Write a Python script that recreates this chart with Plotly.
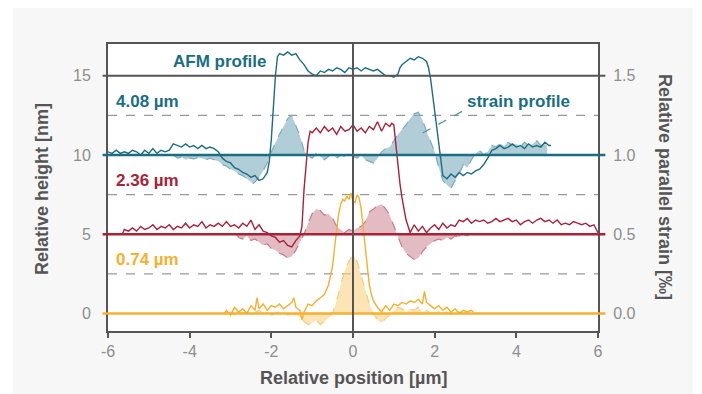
import plotly.graph_objects as go

# ---------------- data ----------------
# AFM height profiles [nm] (already offset in the figure: 10, 5, 0)
afm_408_x = [-6.0,-5.9,-5.8,-5.7,-5.6,-5.5,-5.4,-5.3,-5.2,-5.1,-5.0,-4.9,-4.8,-4.7,-4.6,-4.5,-4.4,-4.3,-4.2,-4.1,-4.0,
             -3.9,-3.8,-3.7,-3.6,-3.5,-3.4,-3.3,-3.2,-3.1,-3.0,-2.9,-2.8,-2.7,-2.6,-2.5,-2.4,-2.3,-2.2,-2.1,-2.05,
             -2.0,-1.95,-1.9,-1.85,-1.8,-1.7,-1.6,-1.5,-1.4,-1.3,-1.2,-1.1,-1.0,-0.9,-0.8,-0.7,-0.6,-0.5,-0.4,-0.3,
             -0.2,-0.1,0.0,0.1,0.2,0.3,0.4,0.5,0.6,0.7,0.8,0.9,1.0,1.1,1.15,1.2,1.3,1.4,1.5,1.6,1.7,1.8,1.85,1.9,
             1.95,2.0,2.05,2.1,2.15,2.2,2.3,2.4,2.5,2.6,2.7,2.8,2.9,3.0,3.1,3.2,3.3,3.4,3.5,3.6,3.7,3.8,3.9,4.0,
             4.1,4.2,4.3,4.4,4.5,4.6,4.7,4.8,4.85]
afm_408_y = [10.2,10.1,10.3,10.1,10.2,10.1,10.3,10.2,10.0,10.3,10.1,10.4,10.1,10.3,10.2,10.3,10.7,10.6,10.5,10.7,10.5,
             10.6,10.4,10.6,10.4,10.5,10.4,10.2,9.8,9.6,9.5,9.2,9.1,8.9,8.8,8.6,8.7,8.4,8.5,8.9,9.6,
             11.0,13.0,15.0,16.2,16.4,16.3,16.5,16.3,16.4,16.0,15.7,15.3,15.1,15.0,15.3,15.2,15.4,15.3,15.5,15.4,
             15.2,15.5,15.4,15.5,15.3,15.5,15.4,15.3,15.4,15.2,15.0,15.0,14.9,15.1,15.5,15.7,15.9,16.1,16.0,16.2,16.1,15.9,15.5,14.8,
             13.8,12.8,11.8,10.5,9.5,8.7,8.5,8.8,8.6,8.9,8.7,8.9,8.8,9.0,9.1,9.4,9.8,10.3,10.4,10.6,10.4,10.5,10.7,10.5,
             10.6,10.4,10.7,10.5,10.6,10.5,10.8,10.6,10.6]

afm_236_x = [-5.65,-5.6,-5.5,-5.4,-5.3,-5.2,-5.1,-5.0,-4.9,-4.8,-4.7,-4.6,-4.5,-4.4,-4.3,-4.2,-4.1,-4.0,-3.9,-3.8,
             -3.7,-3.6,-3.5,-3.4,-3.3,-3.2,-3.1,-3.0,-2.9,-2.8,-2.7,-2.6,-2.5,-2.4,-2.3,-2.2,-2.1,-2.0,-1.9,-1.8,
             -1.7,-1.6,-1.5,-1.4,-1.3,-1.25,-1.2,-1.15,-1.1,-1.05,-1.0,-0.9,-0.8,-0.7,-0.6,-0.5,-0.4,-0.3,-0.2,-0.1,
             0.0,0.1,0.2,0.3,0.4,0.5,0.6,0.7,0.8,0.9,0.95,1.0,1.05,1.1,1.15,1.2,1.3,1.4,1.5,1.6,1.7,1.8,1.9,2.0,
             2.1,2.2,2.3,2.4,2.5,2.6,2.7,2.8,2.9,3.0,3.1,3.2,3.3,3.4,3.5,3.6,3.7,3.8,3.9,4.0,4.1,4.2,4.3,4.4,4.5,
             4.6,4.7,4.8,4.9,5.0,5.1,5.2,5.3,5.4,5.5,5.6,5.7,5.8,5.9,6.0]
afm_236_y = [5.0,5.3,5.2,5.4,5.2,5.5,5.3,5.4,5.6,5.3,5.5,5.4,5.6,5.3,5.5,5.4,5.7,5.4,5.6,5.5,
             5.8,5.4,5.6,5.5,5.7,5.5,5.8,5.5,5.6,5.4,5.7,5.5,5.9,5.3,5.6,5.2,5.1,4.9,4.8,4.5,
             4.6,4.3,4.2,4.6,4.9,5.5,7.8,9.6,10.8,11.5,11.4,11.7,11.4,11.8,11.5,11.7,11.3,11.8,11.5,11.6,
             11.9,11.5,11.7,11.4,11.8,11.6,12.1,11.5,12.0,11.8,12.0,11.9,10.5,9.2,8.2,7.3,5.9,5.1,5.6,5.2,5.5,5.1,5.4,5.6,
             5.3,5.7,5.4,5.6,5.5,5.9,5.8,6.0,5.7,5.9,5.8,5.9,5.7,5.8,6.0,5.8,5.9,6.0,5.8,5.9,5.6,5.8,5.9,5.7,5.9,
             6.0,5.8,5.9,5.7,5.9,5.6,5.7,5.6,5.8,5.7,5.6,5.7,5.5,5.6,5.1]

afm_074_x = [-3.15,-3.1,-3.0,-2.9,-2.8,-2.7,-2.6,-2.5,-2.4,-2.35,-2.3,-2.2,-2.1,-2.0,-1.9,-1.8,-1.7,-1.6,-1.5,-1.45,
             -1.4,-1.3,-1.25,-1.2,-1.1,-1.0,-0.9,-0.8,-0.7,-0.6,-0.5,-0.45,-0.4,-0.35,-0.3,-0.25,-0.2,-0.15,-0.1,-0.05,
             0.0,0.05,0.1,0.15,0.2,0.25,0.3,0.35,0.4,0.45,0.5,0.6,0.7,0.8,0.9,1.0,1.1,1.2,1.3,1.4,1.5,1.6,1.7,1.75,
             1.8,1.9,2.0,2.1,2.2,2.3,2.4,2.5,2.6,2.7,2.8,2.9,2.95]
afm_074_y = [0.0,0.2,-0.1,0.4,0.1,0.3,0.0,0.5,0.2,1.0,0.3,0.6,0.2,0.5,0.4,0.6,0.3,0.5,0.7,1.0,
             0.4,0.2,-0.4,0.1,0.6,0.5,0.8,1.0,1.2,1.8,3.0,4.2,5.3,6.3,6.9,7.2,7.1,7.4,7.2,7.6,
             7.1,7.0,7.5,7.3,6.6,5.4,3.8,2.6,1.8,1.2,0.8,0.4,0.1,0.5,0.2,0.6,0.5,0.7,0.6,0.8,0.7,0.9,0.6,1.4,
             0.7,0.5,0.3,0.5,0.2,0.4,0.1,0.3,0.0,0.2,0.1,0.2,0.1]

# Strain profiles [per mille] (offset in the figure: 1.0, 0.5, 0.0)
strain_408_x = [-4.4,-4.3,-4.2,-4.1,-4.0,-3.9,-3.8,-3.7,-3.6,-3.5,-3.4,-3.3,-3.2,-3.1,-3.0,-2.9,-2.8,-2.7,-2.6,-2.5,
                -2.45,-2.4,-2.3,-2.2,-2.1,-2.0,-1.9,-1.8,-1.7,-1.6,-1.5,-1.4,-1.3,-1.2,-1.1,-1.0,-0.9,-0.8,-0.7,-0.6,
                -0.5,-0.4,-0.3,-0.2,-0.1,0.0,0.1,0.2,0.3,0.4,0.5,0.6,0.7,0.8,0.9,1.0,1.1,1.2,1.3,1.4,1.5,1.6,1.7,1.8,
                1.9,2.0,2.1,2.2,2.3,2.4,2.5,2.6,2.7,2.8,2.9,3.0,3.1,3.2,3.3,3.4,3.5,3.6,3.7,3.8,3.9,4.0,4.1,4.2,4.3,
                4.4,4.5,4.6,4.7,4.75]
strain_408_y = [1.00,0.98,0.985,0.97,0.98,0.975,0.985,0.98,0.97,0.98,0.97,0.96,0.94,0.93,0.91,0.90,0.88,0.87,0.85,0.83,
                0.82,0.83,0.86,0.90,0.95,1.02,1.07,1.13,1.18,1.23,1.25,1.18,1.12,1.03,0.99,0.98,1.01,0.99,0.97,0.99,
                1.01,0.98,1.00,0.99,1.01,0.99,0.98,1.00,0.97,0.96,0.95,0.98,1.02,1.04,1.05,1.09,1.13,1.16,1.19,1.23,1.26,1.27,1.22,1.15,
                1.08,1.02,0.92,0.84,0.81,0.79,0.84,0.88,0.94,0.92,0.97,1.01,1.03,1.00,1.02,1.06,1.05,1.07,1.06,1.08,1.06,1.07,1.05,1.08,1.06,
                1.07,1.09,1.06,1.07,1.06]

strain_236_x = [-2.85,-2.8,-2.7,-2.6,-2.5,-2.4,-2.3,-2.2,-2.1,-2.0,-1.9,-1.8,-1.7,-1.6,-1.5,-1.4,-1.3,-1.2,-1.1,-1.0,
                -0.9,-0.8,-0.7,-0.6,-0.5,-0.4,-0.3,-0.2,-0.1,0.0,0.1,0.2,0.3,0.4,0.5,0.6,0.7,0.8,0.9,1.0,
                1.1,1.2,1.3,1.4,1.5,1.6,1.7,1.8,1.9,2.0,2.1,2.2,2.3,2.4,2.5,2.6,2.7,2.8,2.85]
strain_236_y = [0.50,0.48,0.47,0.49,0.46,0.47,0.45,0.43,0.44,0.41,0.40,0.38,0.37,0.35,0.36,0.40,0.45,0.50,0.57,0.63,
                0.66,0.65,0.62,0.63,0.60,0.55,0.53,0.51,0.53,0.52,0.54,0.55,0.58,0.64,0.66,0.68,0.69,0.66,0.62,0.55,
                0.48,0.42,0.38,0.36,0.34,0.35,0.39,0.42,0.44,0.46,0.47,0.46,0.48,0.47,0.49,0.48,0.50,0.49,0.50]

strain_074_x = [-3.1,-3.0,-2.9,-2.8,-2.7,-2.6,-2.5,-2.4,-2.3,-2.2,-2.1,-2.0,-1.9,-1.8,-1.7,-1.6,-1.5,-1.4,-1.3,-1.2,
                -1.1,-1.0,-0.9,-0.8,-0.7,-0.6,-0.5,-0.4,-0.3,-0.2,-0.1,0.0,0.1,0.2,0.3,0.4,0.5,0.6,0.7,0.8,
                0.9,1.0,1.1,1.2,1.3,1.4,1.5,1.6,1.7,1.8,1.9,2.0,2.1,2.2,2.3,2.4,2.5,2.6,2.7,2.8,2.9,2.95]
strain_074_y = [0.0,0.01,-0.01,0.02,0.0,0.01,-0.01,0.01,0.02,0.0,0.01,-0.01,0.0,0.01,0.0,-0.01,0.0,-0.01,-0.02,-0.05,
                -0.07,-0.06,-0.04,-0.07,-0.05,-0.03,0.0,0.08,0.18,0.27,0.33,0.37,0.33,0.24,0.15,0.06,0.0,-0.04,-0.06,-0.03,
                -0.01,0.02,0.04,0.03,0.01,0.03,0.02,0.04,0.01,0.02,0.0,0.01,0.02,0.0,0.01,-0.01,0.0,0.01,0.0,0.01,0.0,0.0]

series_labels = ["4.08 µm", "2.36 µm", "0.74 µm"]
strain_offsets = [1.0, 0.5, 0.0]
height_offsets = [10, 5, 0]
x_ticks = [-6, -4, -2, 0, 2, 4, 6]
x_ticktext = ["-6", "-4", "-2", "0", "2", "4", "6"]
height_ticks = [0, 5, 10, 15]
strain_ticks = [0.0, 0.5, 1.0, 1.5]
strain_ticktext = ["0.0", "0.5", "1.0", "1.5"]

# ---------------- styles ----------------
TEAL = "#1b6e82"
RED = "#a82338"
YEL = "#f5b030"
FILLS = ["rgba(125,172,188,0.6)", "rgba(196,112,130,0.48)", "rgba(250,210,130,0.6)"]
EDGES = ["#7aaebe", "#c87a8a", "#f3cc82"]
COLS = [TEAL, RED, YEL]
AX = "#555555"
TICKC = "#8e8e8e"
FONT = "Liberation Sans, Arial, sans-serif"

fig = go.Figure()

strains = [(strain_408_x, strain_408_y), (strain_236_x, strain_236_y), (strain_074_x, strain_074_y)]
afms = [(afm_408_x, afm_408_y), (afm_236_x, afm_236_y), (afm_074_x, afm_074_y)]

# strain fills on primary y (right side, per mille)
for i, (sx, sy) in enumerate(strains):
    fig.add_trace(go.Scatter(x=sx, y=[strain_offsets[i]] * len(sx), mode="lines",
                             line=dict(width=0, color="rgba(0,0,0,0)"), showlegend=False, hoverinfo="skip",
                             yaxis="y"))
    fig.add_trace(go.Scatter(x=sx, y=sy, mode="lines", fill="tonexty", fillcolor=FILLS[i],
                             line=dict(color=EDGES[i], width=1.2, dash="dash"), showlegend=False, yaxis="y"))

# AFM lines on y2 (left side, nm), drawn above
for i, (ax_, ay) in enumerate(afms):
    fig.add_trace(go.Scatter(x=ax_, y=ay, mode="lines", line=dict(color=COLS[i], width=1.4),
                             showlegend=False, yaxis="y2"))

# page-pixel -> paper helpers (the page shifts the figure by the 8px body margin)
W, H = 490.0, 287.0
def px(xp): return (xp - 108) / W
def py(yp): return (331 - yp) / H

shapes = []
for yv in [12.5, 7.5, 2.5]:
    shapes.append(dict(type="line", xref="paper", x0=0, x1=1, yref="y2", y0=yv, y1=yv,
                       line=dict(color="#9a9a9a", width=1.3, dash="dash"), layer="below"))
for yv, c in zip([15] + height_offsets, [AX] + COLS):
    shapes.append(dict(type="line", xref="paper", x0=-0.011, x1=1.015, yref="y2", y0=yv, y1=yv,
                       line=dict(color=c, width=2.4 if yv != 15 else 2)))
shapes.append(dict(type="line", xref="x", x0=0, x1=0, yref="paper", y0=0, y1=1,
                   line=dict(color=AX, width=2)))
shapes.append(dict(type="line", xref="x", yref="y2", x0=2.67, y0=12.75, x1=1.57, y1=11.2,
                   line=dict(color="#4d93a6", width=1.2, dash="dash")))
for (a, b) in [(0, 13), (693, 710)]:
    shapes.append(dict(type="rect", xref="paper", yref="paper", x0=px(a), x1=px(b), y0=py(400), y1=py(0),
                       fillcolor="white", line=dict(width=0), layer="below"))

annotations = [
    dict(text="AFM profile", x=-2.05, y=15.9, xref="x", yref="y2", xanchor="right", yanchor="middle",
         showarrow=False, font=dict(family=FONT, size=17, color=TEAL, weight="bold")),
    dict(text="strain profile", x=2.74, y=13.35, xref="x", yref="y2", xanchor="left", yanchor="middle",
         showarrow=False, font=dict(family=FONT, size=17, color=TEAL, weight="bold")),
]
label_y = [13.36, 8.38, 3.4]
for i, lab in enumerate(series_labels):
    annotations.append(dict(text=lab, x=-5.85, y=label_y[i], xref="x", yref="y2", xanchor="left",
                            yanchor="middle", showarrow=False,
                            font=dict(family=FONT, size=17, color=COLS[i], weight="bold")))
annotations += [
    dict(text="Relative height [nm]", x=px(42), y=py(189), xref="paper", yref="paper", textangle=-90,
         xanchor="center", yanchor="middle", showarrow=False,
         font=dict(family=FONT, size=18, color=AX, weight="bold")),
    dict(text="Relative parallel strain [‰]", x=px(665), y=py(187), xref="paper", yref="paper", textangle=90,
         xanchor="center", yanchor="middle", showarrow=False,
         font=dict(family=FONT, size=18, color=AX, weight="bold")),
    dict(text="Relative position [µm]", x=px(353.5), y=py(378), xref="paper", yref="paper",
         xanchor="center", yanchor="middle", showarrow=False,
         font=dict(family=FONT, size=18, color=AX, weight="bold")),
]

fig.update_layout(
    width=694, height=386,
    margin=dict(l=100, r=104, t=36, b=63),
    paper_bgcolor="#f7f7f7", plot_bgcolor="white",
    font=dict(family=FONT, size=16, color=TICKC),
    xaxis=dict(range=[-6, 6], tickvals=x_ticks, ticktext=x_ticktext, ticks="outside", ticklen=5,
               tickwidth=2, tickcolor=AX, showline=True, linecolor=AX, linewidth=2, mirror=True,
               showgrid=False, zeroline=False, tickfont=dict(size=16, color=TICKC)),
    yaxis=dict(range=[-0.11, 1.7], side="right", tickvals=strain_ticks, ticktext=strain_ticktext,
               ticks="", showline=True, linecolor=AX, linewidth=2, showgrid=False, zeroline=False,
               ticklabelstandoff=10, tickfont=dict(size=16, color=TICKC)),
    yaxis2=dict(range=[-1.1, 17], side="left", overlaying="y", tickvals=height_ticks, ticks="",
                showline=True, linecolor=AX, linewidth=2, showgrid=False, zeroline=False,
                ticklabelstandoff=12, tickfont=dict(size=16, color=TICKC)),
    shapes=shapes, annotations=annotations,
)

fig.write_html("out.html")
